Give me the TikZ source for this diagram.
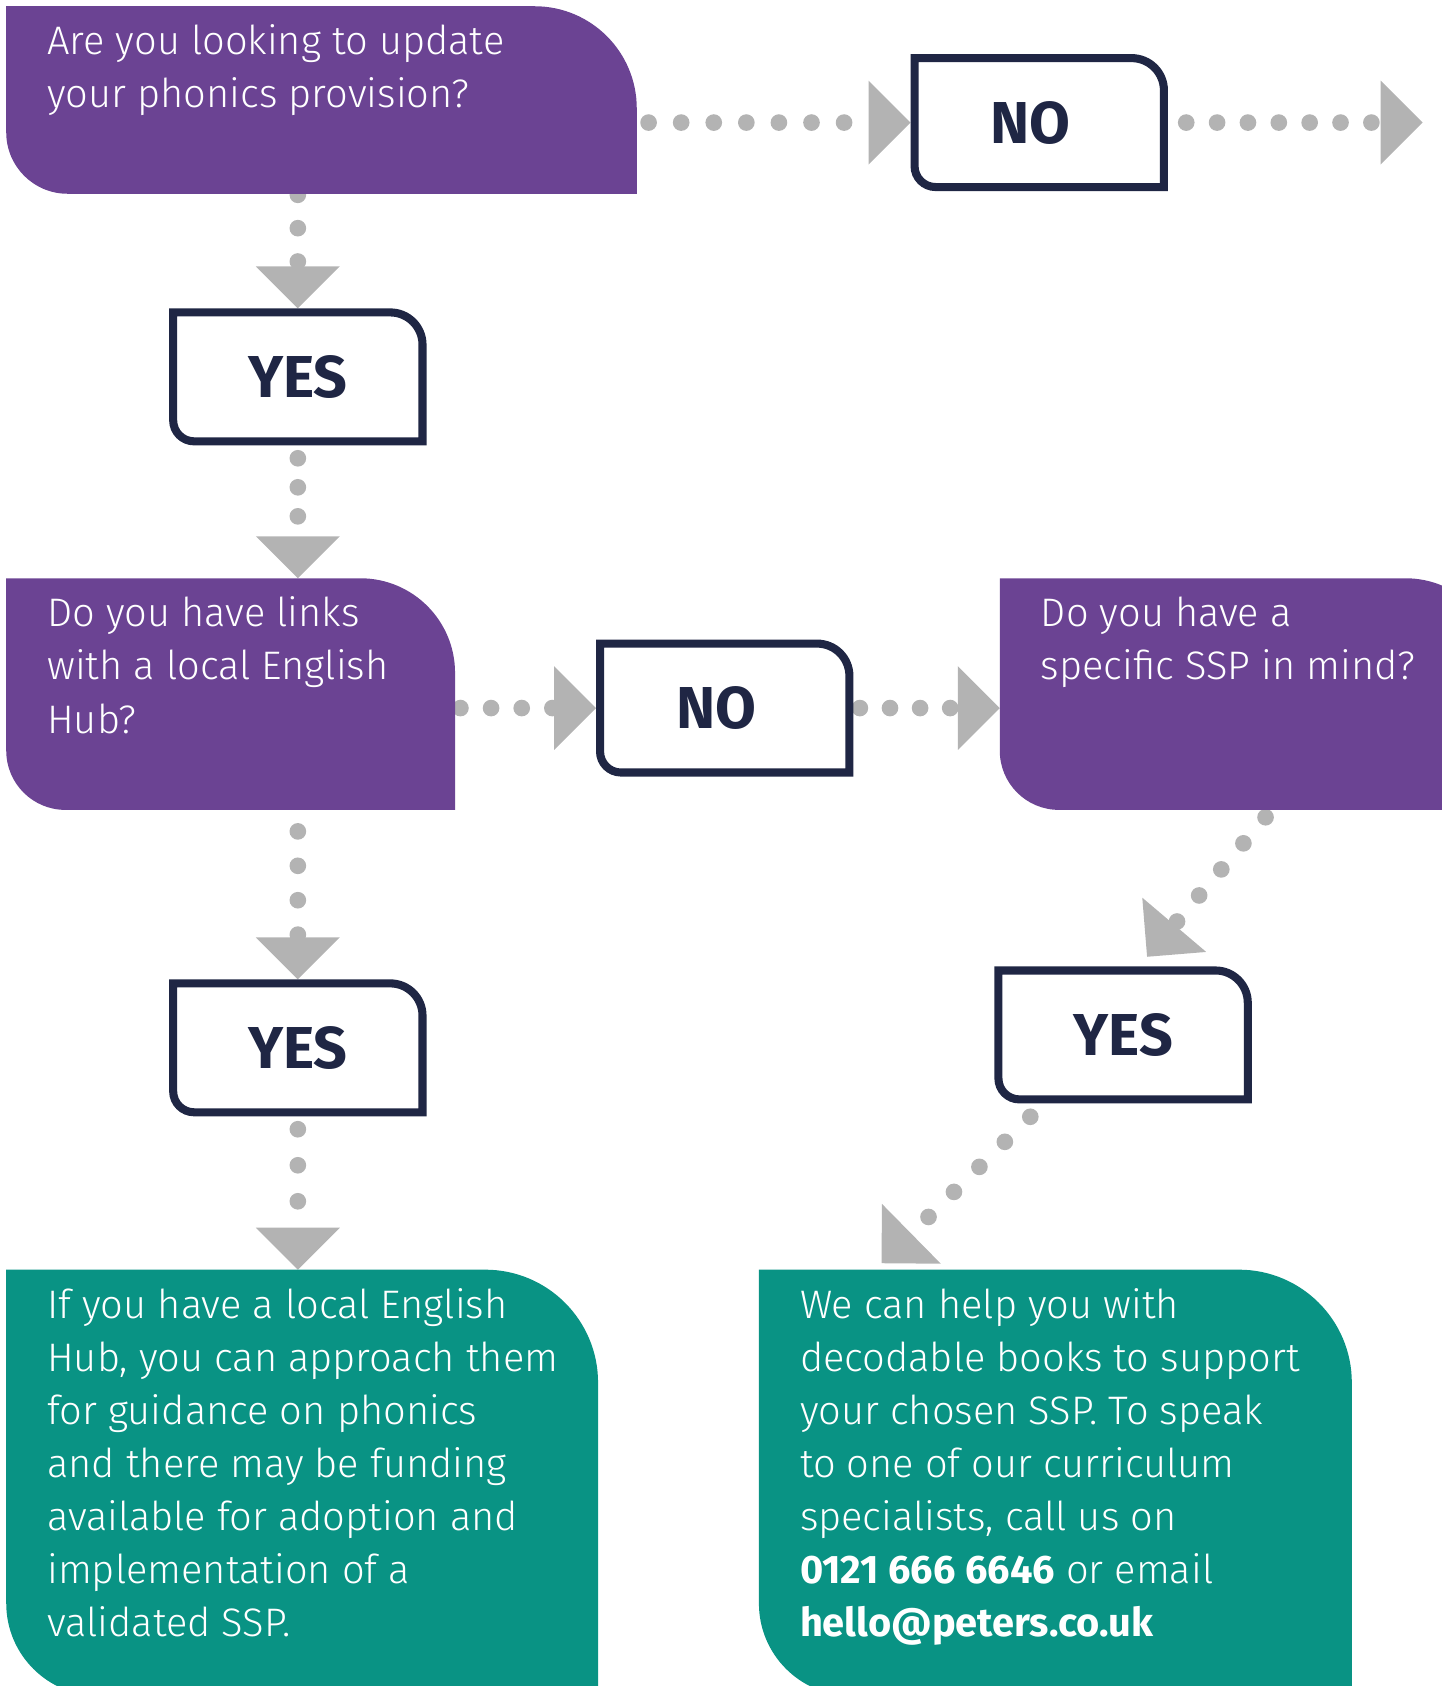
\documentclass[tikz,border=0pt]{standalone}
\usepackage{fontspec}
\setmainfont{Fira Sans}[UprightFont={* Light}, BoldFont={* Bold}]
\usepackage{tikz}
\usetikzlibrary{calc,positioning,arrows.meta}
\definecolor{plum}{HTML}{6B4393}
\definecolor{sea}{HTML}{099384}
\definecolor{navy}{HTML}{1F2644}
\definecolor{dotgrey}{HTML}{B3B3B3}
\tikzset{
  box/.style={rectangle, inner sep=0pt},
  ynbox/.style={box, minimum width=239pt, minimum height=127pt},
  txt/.style={text=white, font=\fontsize{37}{49.4}\selectfont, align=left, inner sep=0pt, anchor=north west},
  ynlab/.style={text=navy, font=\fontsize{55}{60}\selectfont\bfseries, inner sep=0pt},
  dots/.style={draw=dotgrey, line width=15.5pt, line cap=round,
    -{Triangle[length=39pt, width=78pt, line width=0pt]}},
  dotgap/.style 2 args={dash pattern=on 0pt off #1pt, dash phase=#2pt},
}
% box with rounded top right and bottom left corners
\newcommand{\leaf}[5]{%
  \path[#1] ($(#2.north west)+(#5,-#5)$) -- ($(#2.north east)+(-#3-#5,-#5)$)
    arc[start angle=90, end angle=0, radius=#3] -- ($(#2.south east)+(-#5,#5)$)
    -- ($(#2.south west)+(#4+#5,#5)$)
    arc[start angle=270, end angle=180, radius=#4] -- cycle;}

\begin{document}
\begin{tikzpicture}[x=1pt, y=1pt]
  \useasboundingbox (0,0) rectangle (1341,-1568);
  \clip (0,0) rectangle (1341,-1568);

  % boxes
  \node[box, minimum width=586pt, minimum height=174pt] (q1) at (299,-93) {};
  \node[ynbox] (no1) at (966.5,-114) {};
  \node[ynbox] (yes1) at (277,-350.5) {};
  \node[box, minimum width=417pt, minimum height=215pt] (q2) at (214.5,-645.5) {};
  \node[ynbox] (no2) at (674,-658.5) {};
  \node[box, minimum width=465pt, minimum height=215pt] (q3) at (1162.5,-645.5) {};
  \node[ynbox] (yes2) at (277,-974.5) {};
  \node[ynbox] (yes3) at (1044.5,-962.5) {};
  \node[box, minimum width=550pt, minimum height=396pt] (a1) at (281,-1379) {};
  \node[box, minimum width=551pt, minimum height=396pt] (a2) at (981.5,-1379) {};

  \coordinate (out) at (1323,-114);
  \coordinate (q3out) at ($(q3.south west)+(253,0)$);
  \coordinate (yes3in) at ($(yes3.north west)+(142,9)$);
  \coordinate (yes3out) at ($(yes3.south west)+(46,0)$);
  \coordinate (a2in) at ($(a2.north west)+(114,6)$);

  % dotted connectors
  \draw[dots, dotgap={30.3}{19.3}] (q1.east |- no1.west) -- (no1);
  \draw[dots, dotgap={28.7}{11.7}] (no1) -- (out);
  \draw[dots, dotgap={31}{30}] (yes1 |- q1.south) -- (yes1);
  \draw[dots, dotgap={27}{15}] (yes1) -- (yes1 |- q2.north);
  \draw[dots, dotgap={28.5}{23.5}] (q2.east |- no2) -- (no2);
  \draw[dots, dotgap={28}{22}] (no2) -- (q3.west |- no2);
  \draw[dots, dotgap={32}{12}] (yes2 |- q2.south) -- (yes2);
  \draw[dots, dotgap={33.5}{21.5}] (yes2) -- (yes2 |- a1.north);
  \draw[dots, dotgap={31.8}{22.8}] (q3out) -- (yes3in);
  \draw[dots, dotgap={33.2}{15.5}] (yes3out) -- (a2in);

  % shapes
  \leaf{fill=plum}{q1}{95}{57}{0}
  \leaf{fill=plum}{q2}{88}{55}{0}
  \leaf{fill=plum}{q3}{88}{55}{0}
  \leaf{fill=sea}{a1}{105}{86}{0}
  \leaf{fill=sea}{a2}{105}{86}{0}
  \foreach \n in {no1,yes1,no2,yes2,yes3}{
    \leaf{draw=navy, fill=white, line width=7.5pt}{\n}{30}{19.5}{3.75}
  }

  % texts
  \node[txt] (q1t) at ($(q1.north west)+(38,-10.4)$) {\strut Are you looking to update\\your phonics provision?};
  \node[txt] (q2t) at ($(q2.north west)+(38,-10.4)$) {\strut Do you have links\\with a local English\\Hub?};
  \node[txt] (q3t) at ($(q3.north west)+(38,-10.4)$) {\strut Do you have a\\specific SSP in mind?};
  \node[txt] (a1t) at ($(a1.north west)+(38,-10.4)$) {\strut If you have a local English\\Hub, you can approach them\\for guidance on phonics\\and there may be funding\\available for adoption and\\implementation of a\\validated SSP.};
  \node[txt] (a2t) at ($(a2.north west)+(38,-10.4)$) {\strut We can help you with\\decodable books to support\\your chosen SSP. To speak\\to one of our curriculum\\specialists, call us on\\\textbf{0121 666 6646} or email\\\textbf{hello@peters.co.uk}};
  \node[ynlab] (no1t) at ([xshift=-8pt]no1) {NO};
  \node[ynlab] (yes1t) at (yes1) {YES};
  \node[ynlab] (no2t) at ([xshift=-8pt]no2) {NO};
  \node[ynlab] (yes2t) at (yes2) {YES};
  \node[ynlab] (yes3t) at (yes3) {YES};
\end{tikzpicture}
\end{document}
